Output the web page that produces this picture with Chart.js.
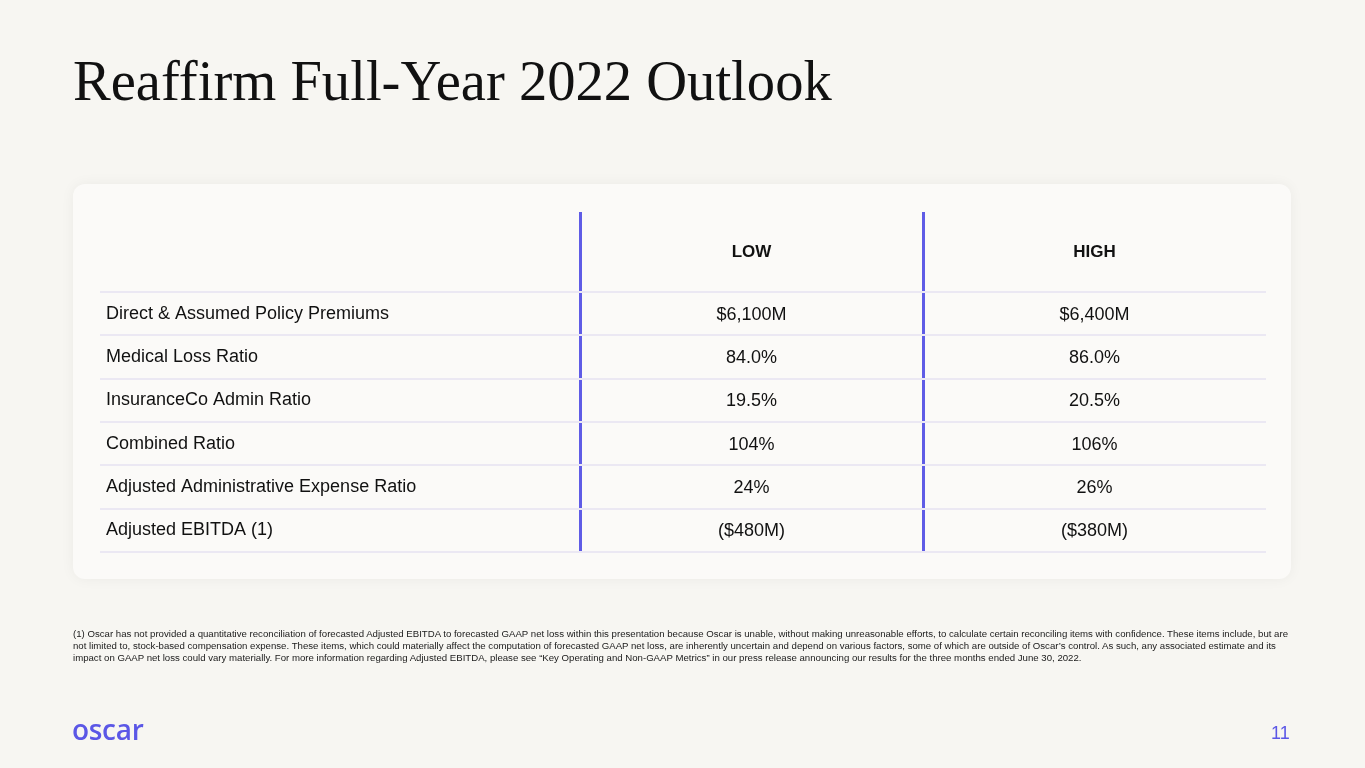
<!DOCTYPE html>
<html>
<head>
<meta charset="utf-8">
<script src="https://cdn.jsdelivr.net/npm/chart.js@4.4.0/dist/chart.umd.min.js"></script>
<style>
  html, body { margin: 0; padding: 0; }
  body { width: 1365px; height: 768px; background: #f7f6f2; position: relative; overflow: hidden; font-family: "Liberation Sans", Arial, sans-serif; }
  #title { position: absolute; left: 73px; top: 45px; font-family: "Liberation Serif", "Times New Roman", serif; font-size: 56.6px; color: #111; white-space: nowrap; margin: 0; font-weight: normal; line-height: 72px; }
  #card { position: absolute; left: 73px; top: 184px; width: 1218px; height: 395px; background: #fbfaf8; border-radius: 12px; box-shadow: 0 0 14px rgba(0,0,0,0.05); }
  #wrap { position: absolute; left: 0; top: 0; width: 1365px; height: 768px; }
  #note { position: absolute; left: 73px; top: 628px; width: 1230px; font-size: 9.65px; line-height: 12px; color: #1a1a1a; white-space: nowrap; }
  #logo { position: absolute; left: 72px; top: 710px; font-family: "Open Sans", sans-serif; font-weight: 600; font-size: 28px; color: #5b57e6; letter-spacing: -0.3px; }
  #page { position: absolute; left: 1271px; top: 723px; font-size: 18px; color: #5b57e6; }
</style>
</head>
<body>
<div id="title">Reaffirm Full-Year 2022 Outlook</div>
<div id="card"></div>
<div id="wrap"><canvas id="c" width="1365" height="768"></canvas></div>
<div id="note">(1) Oscar has not provided a quantitative reconciliation of forecasted Adjusted EBITDA to forecasted GAAP net loss within this presentation because Oscar is unable, without making unreasonable efforts, to calculate certain reconciling items with confidence. These items include, but are<br>not limited to, stock-based compensation expense. These items, which could materially affect the computation of forecasted GAAP net loss, are inherently uncertain and depend on various factors, some of which are outside of Oscar’s control. As such, any associated estimate and its<br>impact on GAAP net loss could vary materially. For more information regarding Adjusted EBITDA, please see “Key Operating and Non-GAAP Metrics” in our press release announcing our results for the three months ended June 30, 2022.</div>
<div id="logo">oscar</div>
<div id="page">11</div>
<script>
const columns = ['LOW', 'HIGH'];
const rowLabels = [
  'Direct & Assumed Policy Premiums',
  'Medical Loss Ratio',
  'InsuranceCo Admin Ratio',
  'Combined Ratio',
  'Adjusted Administrative Expense Ratio',
  'Adjusted EBITDA (1)'
];
const lowValues  = ['$6,100M', '84.0%', '19.5%', '104%', '24%', '($480M)'];
const highValues = ['$6,400M', '86.0%', '20.5%', '106%', '26%', '($380M)'];

const cellTextPlugin = {
  id: 'cellText',
  afterDraw(chart) {
    const { ctx, scales } = chart;
    const x = scales.x, y = scales.y;
    const cols = [lowValues, highValues];
    ctx.save();
    ctx.fillStyle = '#111';
    ctx.font = '18px "Liberation Sans", Arial, sans-serif';
    ctx.textAlign = 'center';
    ctx.textBaseline = 'middle';
    cols.forEach((vals, ci) => {
      const px = x.getPixelForValue(ci);
      vals.forEach((v, ri) => {
        ctx.fillText(v, px, y.getPixelForValue(ri) + 1);
      });
    });
    ctx.restore();
  }
};

new Chart(document.getElementById('c'), {
  type: 'bar',
  data: {
    labels: columns,
    datasets: [{ data: [], yAxisID: 'y', xAxisID: 'x' }]
  },
  options: {
    responsive: false,
    animation: false,
    devicePixelRatio: 1,
    layout: { padding: { left: 106, top: 212, right: 99, bottom: 216 } },
    plugins: { legend: { display: false }, tooltip: { enabled: false } },
    scales: {
      x: {
        type: 'category',
        position: 'top',
        labels: columns,
        offset: true,
        grid: {
          offset: true,
          drawTicks: true,
          tickLength: 80,
          color: (c) => (c.type === 'tick' ? '#5f5ce6' : 'rgba(0,0,0,0)'),
          lineWidth: 3
        },
        border: { display: false },
        ticks: {
          padding: -51,
          color: '#111',
          font: { family: '"Liberation Sans", Arial, sans-serif', size: 17, weight: 'bold' },
          maxRotation: 0
        },
        afterFit: (s) => { s.height = 80; }
      },
      y: {
        type: 'category',
        position: 'left',
        labels: rowLabels,
        offset: true,
        grid: {
          offset: true,
          drawTicks: true,
          tickLength: 480,
          color: '#ebe8f3',
          lineWidth: 2,
          z: -1
        },
        border: { display: false },
        ticks: {
          crossAlign: 'far',
          padding: 0,
          color: '#111',
          font: { family: '"Liberation Sans", Arial, sans-serif', size: 18 }
        },
        afterFit: (s) => { s.width = 474; }
      }
    }
  },
  plugins: [cellTextPlugin]
});
</script>
</body>
</html>
